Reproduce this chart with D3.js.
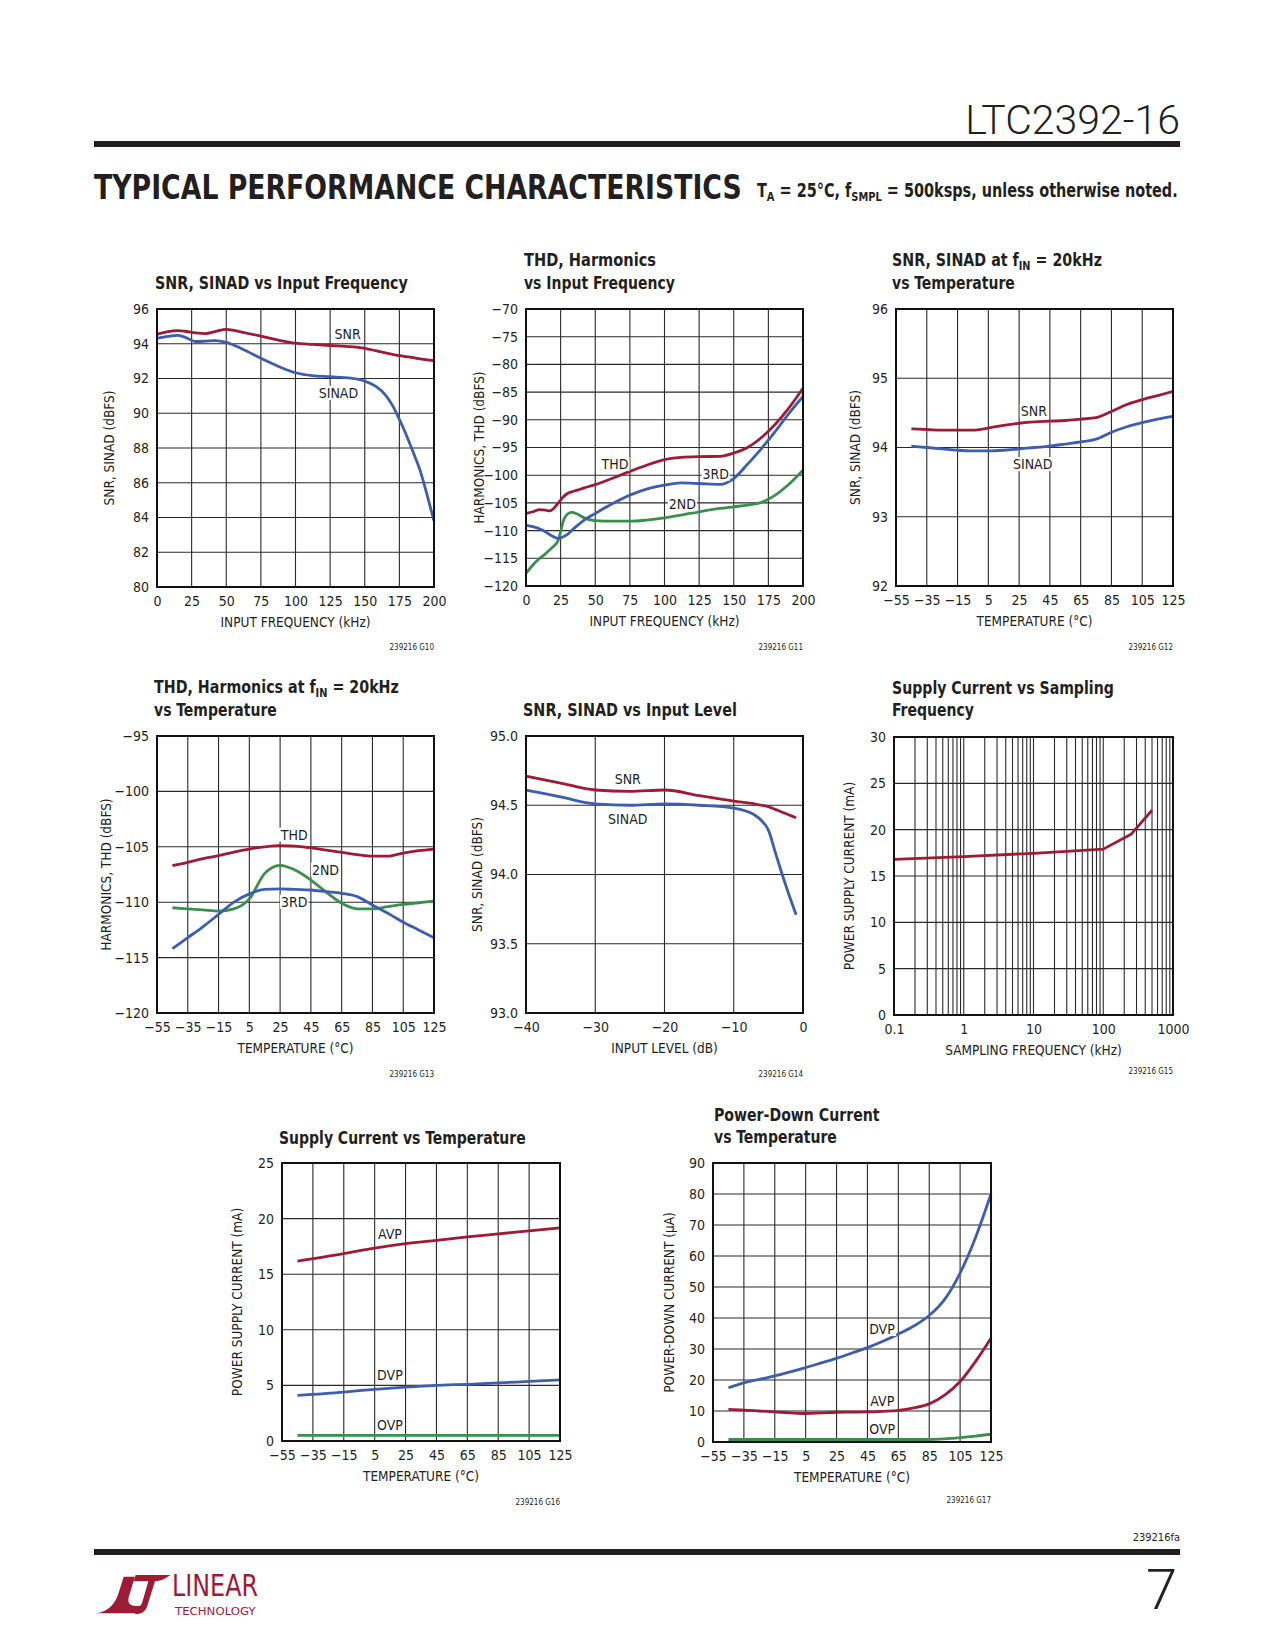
<!DOCTYPE html>
<html><head><meta charset="utf-8">
<script src="https://cdn.jsdelivr.net/npm/d3@7/dist/d3.min.js"></script>
<style>body{margin:0;background:#fff}svg{display:block}</style>
</head><body>
<script>
// ---------- DATA ----------
// Chart G10: SNR, SINAD vs Input Frequency
const g10_freq  = [0, 8, 15, 20, 28, 35, 42, 50, 62, 75, 87, 100, 112, 125, 140, 150, 158, 165, 170, 175, 180, 185, 190, 195, 200];
const g10_snr   = [94.54, 94.7, 94.75, 94.72, 94.62, 94.58, 94.7, 94.83, 94.65, 94.44, 94.22, 94.03, 93.96, 93.9, 93.83, 93.74, 93.6, 93.47, 93.39, 93.32, 93.26, 93.2, 93.13, 93.07, 93.02];
const g10_sinad = [94.31, 94.42, 94.48, 94.38, 94.13, 94.15, 94.18, 94.08, 93.68, 93.16, 92.72, 92.33, 92.16, 92.1, 92.02, 91.85, 91.55, 91.05, 90.45, 89.65, 88.75, 87.75, 86.7, 85.3, 83.8];
const g10_xticks = [0, 25, 50, 75, 100, 125, 150, 175, 200];
const g10_yticks = [80, 82, 84, 86, 88, 90, 92, 94, 96];

// Chart G11: THD, Harmonics vs Input Frequency
const g11_freq = [0, 5, 10, 14, 17, 20, 23, 25, 27, 30, 33, 37, 42, 50, 62, 75, 87, 100, 112, 125, 140, 150, 160, 170, 180, 190, 200];
const g11_thd  = [-106.9, -106.6, -106.2, -106.3, -106.45, -106.0, -105.1, -104.5, -103.9, -103.3, -103.0, -102.7, -102.3, -101.7, -100.6, -99.3, -98.2, -97.2, -96.8, -96.65, -96.6, -96.0, -95.0, -93.2, -90.8, -87.8, -84.3];
const g11_3rd  = [-109.0, -109.3, -109.7, -110.2, -110.7, -111.1, -111.4, -111.3, -111.1, -110.7, -110.0, -109.1, -108.1, -106.9, -105.2, -103.6, -102.5, -101.8, -101.4, -101.5, -101.65, -100.6, -98.0, -95.2, -92.1, -88.8, -85.8];
const g11_2nd  = [-117.7, -116.2, -115.0, -114.2, -113.5, -112.8, -111.9, -110.2, -108.2, -107.0, -106.7, -107.0, -107.7, -108.2, -108.3, -108.3, -108.1, -107.7, -107.2, -106.6, -106.0, -105.7, -105.4, -104.9, -103.6, -101.6, -99.1];
const g11_xticks = [0, 25, 50, 75, 100, 125, 150, 175, 200];
const g11_yticks = [-120, -115, -110, -105, -100, -95, -90, -85, -80, -75, -70];

// Chart G12: SNR, SINAD at fIN = 20kHz vs Temperature
const g12_temp  = [-45, -35, -25, -15, -5, 5, 15, 25, 35, 45, 55, 65, 75, 85, 95, 105, 115, 125];
const g12_snr   = [94.27, 94.26, 94.25, 94.25, 94.25, 94.28, 94.32, 94.35, 94.37, 94.38, 94.39, 94.41, 94.43, 94.52, 94.62, 94.69, 94.75, 94.81];
const g12_sinad = [94.02, 94.0, 93.98, 93.96, 93.95, 93.95, 93.96, 93.98, 94.0, 94.02, 94.05, 94.08, 94.12, 94.22, 94.3, 94.36, 94.41, 94.45];
const temp_ticks = [-55, -35, -15, 5, 25, 45, 65, 85, 105, 125];
const g12_yticks = [92, 93, 94, 95, 96];

// Chart G13: THD, Harmonics at fIN = 20kHz vs Temperature
const g13_temp = [-45, -35, -25, -15, -5, 5, 15, 25, 35, 45, 55, 65, 75, 85, 95, 105, 115, 125];
const g13_thd  = [-106.7, -106.4, -106.07, -105.8, -105.47, -105.2, -105.0, -104.9, -104.93, -105.1, -105.3, -105.5, -105.7, -105.85, -105.85, -105.56, -105.35, -105.2];
const g13_2nd  = [-110.5, -110.6, -110.7, -110.8, -110.6, -109.7, -107.4, -106.67, -107.12, -108.0, -109.1, -110.1, -110.6, -110.6, -110.4, -110.2, -110.05, -109.9];
const g13_3rd  = [-114.2, -113.2, -112.2, -111.1, -110.0, -109.25, -108.85, -108.8, -108.85, -108.9, -109.05, -109.2, -109.5, -110.25, -111.0, -111.8, -112.5, -113.2];
const g13_yticks = [-120, -115, -110, -105, -100, -95];

// Chart G14: SNR, SINAD vs Input Level
const g14_level = [-40, -35, -30, -25, -20, -15, -10, -7, -6, -5, -4, -3, -2, -1];
const g14_snr   = [94.71, 94.66, 94.61, 94.6, 94.61, 94.57, 94.53, 94.51, 94.5, 94.49, 94.47, 94.45, 94.43, 94.41];
const g14_sinad = [94.61, 94.56, 94.51, 94.5, 94.51, 94.5, 94.48, 94.43, 94.39, 94.32, 94.16, 94.0, 93.85, 93.71];
const g14_xticks = [-40, -30, -20, -10, 0];
const g14_yticks = [93.0, 93.5, 94.0, 94.5, 95.0];

// Chart G15: Supply Current vs Sampling Frequency
const g15_fs    = [0.1, 1, 10, 100, 250, 500];
const g15_curr  = [16.8, 17.1, 17.45, 17.9, 19.5, 22.1];
const g15_xticks = [0.1, 1, 10, 100, 1000];
const g15_yticks = [0, 5, 10, 15, 20, 25, 30];

// Chart G16: Supply Current vs Temperature
const g16_temp = [-45, -15, 5, 25, 45, 65, 85, 105, 125];
const g16_avp  = [16.18, 16.85, 17.35, 17.75, 18.05, 18.35, 18.62, 18.9, 19.16];
const g16_dvp  = [4.1, 4.4, 4.65, 4.85, 5.0, 5.1, 5.22, 5.36, 5.5];
const g16_ovp  = [0.5, 0.5, 0.5, 0.5, 0.5, 0.5, 0.5, 0.5, 0.5];
const g16_yticks = [0, 5, 10, 15, 20, 25];

// Chart G17: Power-Down Current vs Temperature
const g17_temp = [-45, -35, -25, -15, -5, 5, 15, 25, 35, 45, 55, 65, 75, 85, 95, 105, 115, 125];
const g17_dvp  = [17.5, 19.1, 20.2, 21.3, 22.6, 24.0, 25.5, 27.0, 28.7, 30.45, 32.5, 34.8, 37.4, 40.8, 46.0, 54.5, 66, 80];
const g17_avp  = [10.5, 10.3, 10.0, 9.7, 9.4, 9.2, 9.4, 9.6, 9.65, 9.7, 9.9, 10.2, 11.0, 12.3, 15.1, 19.5, 26, 33.5];
const g17_ovp  = [0.8, 0.8, 0.8, 0.8, 0.8, 0.8, 0.8, 0.8, 0.8, 0.8, 0.8, 0.8, 0.8, 0.8, 1.0, 1.4, 1.9, 2.5];
const g17_yticks = [0, 10, 20, 30, 40, 50, 60, 70, 80, 90];

// ---------- STYLE ----------
const RED = "#9e1b36", BLUE = "#3d5eae", GREEN = "#3a8f4c", INK = "#231f20";
const NARROW = '"Liberation Sans Narrow","DejaVu Sans Condensed","Arial Narrow",sans-serif';

const svg = d3.select("body").append("svg").attr("width", 1275).attr("height", 1650)
  .style("font-family", NARROW);
svg.append("rect").attr("width", 1275).attr("height", 1650).attr("fill", "#fff");

// squeeze a text (drawn at origin, start-anchored) horizontally to a target width
function fit(t, x, y, width) {
  const w = t.node().getBBox().width;
  t.attr("transform", `translate(${x},${y}) scale(${width / w},1)`);
  return t;
}

// ---------- HEADER / FOOTER ----------
svg.append("text").attr("x", 1180).attr("y", 134).attr("text-anchor", "end")
  .style("font-family", "Roboto, sans-serif").style("font-weight", 300).style("font-size", "41px")
  .attr("fill", INK).text("LTC2392-16");
svg.append("rect").attr("x", 94).attr("y", 141).attr("width", 1086).attr("height", 6).attr("fill", INK);
fit(svg.append("text")
  .style("font-family", '"DejaVu Sans", sans-serif').style("font-weight", 900).style("font-size", "33px")
  .attr("fill", INK).text("TYPICAL PERFORMANCE CHARACTERISTICS"), 94, 199, 648);
const sub = svg.append("text").style("font-weight", 700).style("font-size", "19px").attr("fill", INK);
sub.append("tspan").text("T");
sub.append("tspan").attr("dy", 4).style("font-size", "13px").text("A");
sub.append("tspan").attr("dy", -4).text(" = 25°C, f");
sub.append("tspan").attr("dy", 4).style("font-size", "13px").text("SMPL");
sub.append("tspan").attr("dy", -4).text(" = 500ksps, unless otherwise noted.");
fit(sub, 757, 197, 421);

svg.append("text").attr("x", 1180).attr("y", 1541).attr("text-anchor", "end")
  .style("font-size", "11px").attr("fill", INK).text("239216fa");
svg.append("rect").attr("x", 94).attr("y", 1549).attr("width", 1086).attr("height", 6).attr("fill", INK);
svg.append("text").attr("x", 1177).attr("y", 1609).attr("text-anchor", "end")
  .style("font-family", "Roboto, sans-serif").style("font-weight", 300).style("font-size", "56px")
  .attr("fill", INK).text("7");
// logo
const logo = svg.append("g").attr("transform", "translate(85,1560) scale(0.3333)").attr("fill", RED);
logo.append("path").attr("d", "M35,160 C75,152 92,128 102,95 L116,50 L150,50 L132,108 C126,128 134,138 152,138 L166,138 L160,160 Z");
logo.append("path").attr("d", "M152,45 L257,45 C240,55 232,62 210,64 L186,140 C180,156 168,162 150,162 L160,140 C166,138 170,134 172,126 L190,64 L146,64 Z");
fit(svg.append("text").style("font-size", "30px").attr("fill", RED).text("LINEAR"), 172, 1596, 86);
fit(svg.append("text").style("font-size", "11px").attr("fill", RED).text("TECHNOLOGY"), 175, 1615, 83);

// ---------- GENERIC CHART ----------
function drawChart(c) {
  const g = svg.append("g");
  const x = (c.log ? d3.scaleLog() : d3.scaleLinear()).domain(c.xDomain).range([c.x, c.x + c.w]);
  const y = d3.scaleLinear().domain(c.yDomain).range([c.y + c.h, c.y]);

  // title
  c.title.forEach((line, i) => {
    const t = g.append("text").style("font-weight", 700).style("font-size", "17.5px").attr("fill", INK);
    line.forEach(part => {
      if (typeof part === "string") t.append("tspan").text(part);
      else t.append("tspan").attr("dy", part.dy).style("font-size", part.fs || "17.5px").text(part.t);
    });
    fit(t, c.tx, c.ty[i], c.tw[i]);
  });

  // grid
  g.append("g").selectAll("line").data(c.xGrid).join("line")
    .attr("x1", d => x(d)).attr("x2", d => x(d)).attr("y1", c.y).attr("y2", c.y + c.h)
    .attr("stroke", "#2a2a2a").attr("stroke-width", 1.1);
  g.append("g").selectAll("line").data(c.yTicks).join("line")
    .attr("y1", d => y(d)).attr("y2", d => y(d)).attr("x1", c.x).attr("x2", c.x + c.w)
    .attr("stroke", "#2a2a2a").attr("stroke-width", 1.1);

  // axes (labels only)
  const ax = g.append("g").attr("transform", `translate(0,${c.y + c.h})`)
    .call(d3.axisBottom(x).tickValues(c.xTicks).tickFormat(c.xFmt || (d => d3.format("")(d))).tickSize(0).tickPadding(9));
  const ay = g.append("g").attr("transform", `translate(${c.x},0)`)
    .call(d3.axisLeft(y).tickValues(c.yTicks).tickFormat(c.yFmt || (d => d3.format("")(d))).tickSize(0).tickPadding(8));
  [ax, ay].forEach(a => {
    a.select(".domain").remove();
    a.selectAll("text").style("font-family", NARROW).style("font-size", "14px").attr("fill", INK);
  });

  // series
  const curve = c.curve || d3.curveMonotoneX;
  c.series.forEach(s => {
    const pts = s.xs.map((v, i) => [v, s.ys[i]]);
    g.append("path").datum(pts)
      .attr("d", d3.line().x(d => x(d[0])).y(d => y(d[1])).curve(curve))
      .attr("fill", "none").attr("stroke", s.color).attr("stroke-width", 2.8)
      .attr("stroke-linejoin", "round").attr("stroke-linecap", "butt");
  });

  // frame
  g.append("rect").attr("x", c.x).attr("y", c.y).attr("width", c.w).attr("height", c.h)
    .attr("fill", "none").attr("stroke", "#111").attr("stroke-width", 2);

  // inline labels
  (c.labels || []).forEach(l => {
    const t = g.append("text").attr("x", x(l.x)).attr("y", y(l.y)).attr("text-anchor", "middle")
      .attr("dy", "0.36em").style("font-size", "14px").attr("fill", INK).text(l.t);
    const b = t.node().getBBox();
    g.insert("rect", () => t.node()).attr("x", b.x - 1).attr("y", b.y + 1).attr("width", b.width + 2)
      .attr("height", b.height - 2).attr("fill", "#fff");
  });

  // axis titles
  g.append("text").attr("x", c.x + c.w / 2).attr("y", c.y + c.h + 40).attr("text-anchor", "middle")
    .style("font-size", "13.5px").attr("fill", INK).text(c.xLabel);
  g.append("text").attr("transform", `translate(${c.x - c.yLabOff},${c.y + c.h / 2}) rotate(-90)`)
    .attr("text-anchor", "middle").style("font-size", "13.5px").attr("fill", INK).text(c.yLabel);
  // figure code
  g.append("text").attr("x", c.x + c.w).attr("y", c.codeY).attr("text-anchor", "end")
    .style("font-size", "8px").attr("fill", INK).text(c.code);
}

const sub_ = t => ({ t, dy: 4, fs: "12px" });
const back = t => ({ t, dy: -4 });

drawChart({
  x: 157, y: 309, w: 277, h: 278, xDomain: [0, 200], yDomain: [80, 96],
  xTicks: g10_xticks, xGrid: g10_xticks, yTicks: g10_yticks,
  title: [["SNR, SINAD vs Input Frequency"]], tx: 155, ty: [289], tw: [253],
  xLabel: "INPUT FREQUENCY (kHz)", yLabel: "SNR, SINAD (dBFS)", yLabOff: 43,
  code: "239216 G10", codeY: 650,
  series: [{ xs: g10_freq, ys: g10_snr, color: RED }, { xs: g10_freq, ys: g10_sinad, color: BLUE }],
  labels: [{ t: "SNR", x: 137.6, y: 94.56 }, { t: "SINAD", x: 131, y: 91.18 }]
});

drawChart({
  x: 526, y: 309, w: 277, h: 277, xDomain: [0, 200], yDomain: [-120, -70],
  xTicks: g11_xticks, xGrid: g11_xticks, yTicks: g11_yticks,
  title: [["THD, Harmonics"], ["vs Input Frequency"]], tx: 524, ty: [266, 289], tw: [132, 151],
  xLabel: "INPUT FREQUENCY (kHz)", yLabel: "HARMONICS, THD (dBFS)", yLabOff: 42,
  code: "239216 G11", codeY: 650,
  series: [{ xs: g11_freq, ys: g11_2nd, color: GREEN }, { xs: g11_freq, ys: g11_3rd, color: BLUE }, { xs: g11_freq, ys: g11_thd, color: RED }],
  labels: [{ t: "THD", x: 64.3, y: -97.98 }, { t: "3RD", x: 137, y: -99.7 }, { t: "2ND", x: 112.9, y: -105.25 }]
});

drawChart({
  x: 896, y: 309, w: 277, h: 277, xDomain: [-55, 125], yDomain: [92, 96],
  xTicks: temp_ticks, xGrid: temp_ticks, yTicks: g12_yticks,
  title: [["SNR, SINAD at f", sub_("IN"), back(" = 20kHz")], ["vs Temperature"]], tx: 892, ty: [266, 289], tw: [210, 123],
  xLabel: "TEMPERATURE (°C)", yLabel: "SNR, SINAD (dBFS)", yLabOff: 36,
  code: "239216 G12", codeY: 650,
  series: [{ xs: g12_temp, ys: g12_snr, color: RED }, { xs: g12_temp, ys: g12_sinad, color: BLUE }],
  labels: [{ t: "SNR", x: 34.6, y: 94.53 }, { t: "SINAD", x: 33.8, y: 93.76 }]
});

drawChart({
  x: 157, y: 736, w: 277, h: 277, xDomain: [-55, 125], yDomain: [-120, -95],
  xTicks: temp_ticks, xGrid: temp_ticks, yTicks: g13_yticks,
  title: [["THD, Harmonics at f", sub_("IN"), back(" = 20kHz")], ["vs Temperature"]], tx: 154, ty: [693, 716], tw: [245, 123],
  xLabel: "TEMPERATURE (°C)", yLabel: "HARMONICS, THD (dBFS)", yLabOff: 46,
  code: "239216 G13", codeY: 1077,
  series: [{ xs: g13_temp, ys: g13_2nd, color: GREEN }, { xs: g13_temp, ys: g13_3rd, color: BLUE }, { xs: g13_temp, ys: g13_thd, color: RED }],
  labels: [{ t: "THD", x: 34.2, y: -103.9 }, { t: "2ND", x: 54.5, y: -107.06 }, { t: "3RD", x: 34.2, y: -109.95 }]
});

drawChart({
  x: 526, y: 736, w: 277, h: 277, xDomain: [-40, 0], yDomain: [93, 95],
  xTicks: g14_xticks, xGrid: g14_xticks, yTicks: g14_yticks, yFmt: d3.format(".1f"),
  title: [["SNR, SINAD vs Input Level"]], tx: 523, ty: [716], tw: [214],
  xLabel: "INPUT LEVEL (dB)", yLabel: "SNR, SINAD (dBFS)", yLabOff: 44,
  code: "239216 G14", codeY: 1077,
  series: [{ xs: g14_level, ys: g14_snr, color: RED }, { xs: g14_level, ys: g14_sinad, color: BLUE }],
  labels: [{ t: "SNR", x: -25.3, y: 94.69 }, { t: "SINAD", x: -25.3, y: 94.40 }]
});

const logGrid = [];
[0.1, 1, 10, 100].forEach(dec => { for (let m = 1; m <= 9; m++) logGrid.push(dec * m); });
logGrid.push(1000);
drawChart({
  x: 894, y: 737, w: 279, h: 278, log: true, xDomain: [0.1, 1000], yDomain: [0, 30],
  xTicks: g15_xticks, xGrid: logGrid, yTicks: g15_yticks, xFmt: d => String(d),
  title: [["Supply Current vs Sampling"], ["Frequency"]], tx: 892, ty: [694, 716], tw: [222, 82],
  xLabel: "SAMPLING FREQUENCY (kHz)", yLabel: "POWER SUPPLY CURRENT (mA)", yLabOff: 40,
  code: "239216 G15", codeY: 1074, curve: d3.curveLinear,
  series: [{ xs: g15_fs, ys: g15_curr, color: RED }]
});

drawChart({
  x: 282, y: 1163, w: 278, h: 278, xDomain: [-55, 125], yDomain: [0, 25],
  xTicks: temp_ticks, xGrid: temp_ticks, yTicks: g16_yticks,
  title: [["Supply Current vs Temperature"]], tx: 279, ty: [1144], tw: [247],
  xLabel: "TEMPERATURE (°C)", yLabel: "POWER SUPPLY CURRENT (mA)", yLabOff: 40,
  code: "239216 G16", codeY: 1505,
  series: [{ xs: g16_temp, ys: g16_avp, color: RED }, { xs: g16_temp, ys: g16_dvp, color: BLUE }, { xs: g16_temp, ys: g16_ovp, color: GREEN }],
  labels: [{ t: "AVP", x: 14.9, y: 18.62 }, { t: "DVP", x: 14.9, y: 5.93 }, { t: "OVP", x: 14.9, y: 1.44 }]
});

drawChart({
  x: 713, y: 1163, w: 278, h: 279, xDomain: [-55, 125], yDomain: [0, 90],
  xTicks: temp_ticks, xGrid: temp_ticks, yTicks: g17_yticks,
  title: [["Power-Down Current"], ["vs Temperature"]], tx: 714, ty: [1121, 1143], tw: [166, 123],
  xLabel: "TEMPERATURE (°C)", yLabel: "POWER-DOWN CURRENT (µA)", yLabOff: 39,
  code: "239216 G17", codeY: 1503,
  series: [{ xs: g17_temp, ys: g17_ovp, color: GREEN }, { xs: g17_temp, ys: g17_avp, color: RED }, { xs: g17_temp, ys: g17_dvp, color: BLUE }],
  labels: [{ t: "DVP", x: 54.4, y: 36.45 }, { t: "AVP", x: 54.6, y: 13.1 }, { t: "OVP", x: 54.6, y: 4.3 }]
});
</script>
</body></html>
